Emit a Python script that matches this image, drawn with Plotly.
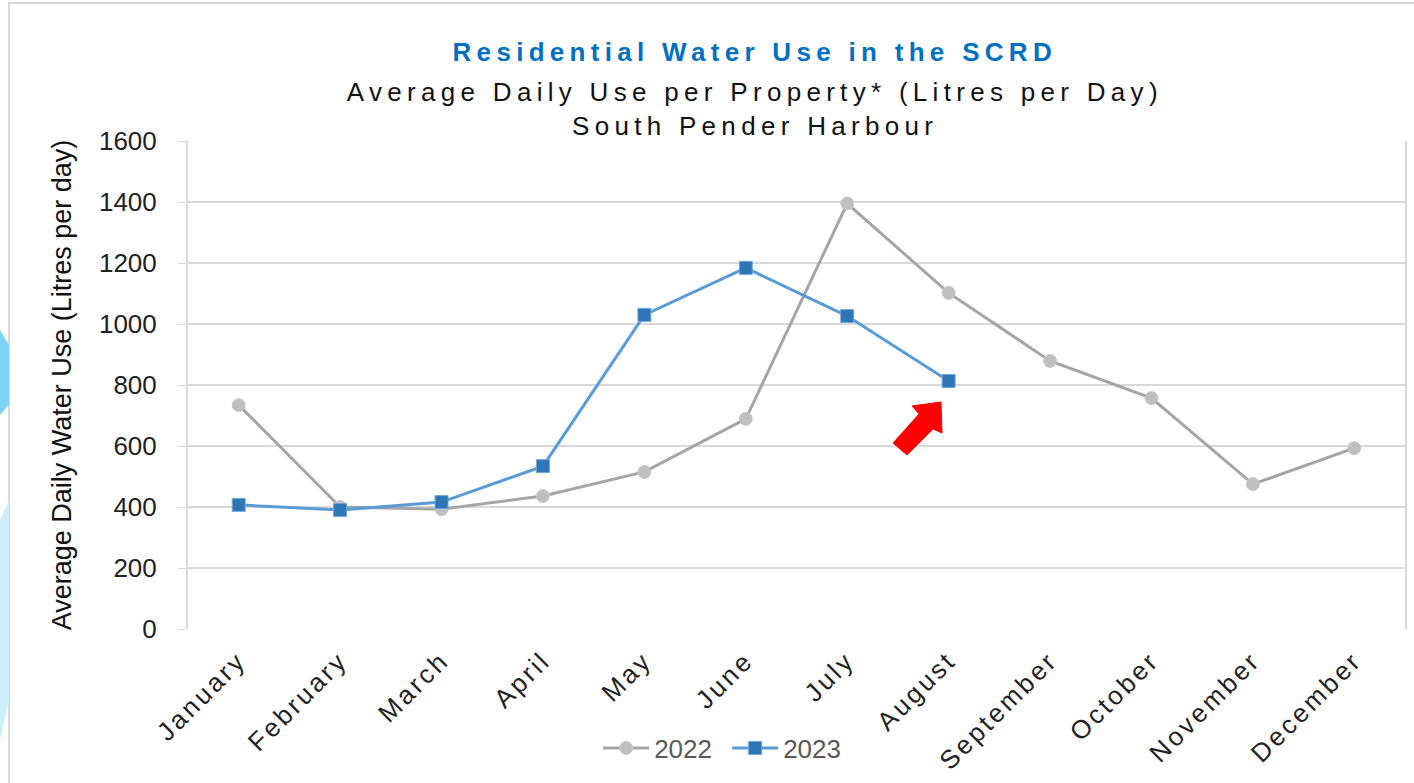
import plotly.graph_objects as go

months = ['January', 'February', 'March', 'April', 'May', 'June', 'July',
          'August', 'September', 'October', 'November', 'December']
use_2022 = [734, 400, 393, 436, 515, 689, 1395, 1102, 879, 757, 475, 593]
months_2023 = months[:8]
use_2023 = [407, 390, 416, 534, 1030, 1184, 1026, 813]
y_ticks = [0, 200, 400, 600, 800, 1000, 1200, 1400, 1600]

# plot area in pixels (used to place decorations)
L, R, T, B = 188, 1405, 141, 629


def px(x, y):
    return (x - L) / (R - L), (B - y) / (B - T)


def poly(points):
    pts = [px(x, y) for x, y in points]
    return 'M ' + ' L '.join(f'{a:.4f},{b:.4f}' for a, b in pts) + ' Z'


fig = go.Figure()

fig.add_trace(go.Scatter(
    x=months, y=use_2022, name='2022', mode='lines+markers',
    line=dict(color='#A5A5A5', width=3),
    marker=dict(symbol='circle', size=13, color='#BFBFBF',
                line=dict(color='#C9C9C9', width=1))))

fig.add_trace(go.Scatter(
    x=months_2023, y=use_2023, name='2023', mode='lines+markers',
    line=dict(color='#5B9BD5', width=3),
    marker=dict(symbol='square', size=13, color='#2E75B6',
                line=dict(color='#6FA8DC', width=1))))

title_lines = [
    ('<b>Residential Water Use in the SCRD</b>', '#0070C0', 26, 52),
    ('Average Daily Use per Property* (Litres per Day)', '#111111', 26, 92),
    ('South Pender Harbour', '#111111', 26, 126),
]
annotations = []
for text, col, size, ypix in title_lines:
    ax, ay = px(755, ypix)
    annotations.append(dict(text=text, x=ax, y=ay, xref='paper', yref='paper',
                            xanchor='center', yanchor='middle', showarrow=False,
                            font=dict(color=col, size=size)))

bx0, by0 = px(9, 3)
bx1, by1 = px(1430, 800)
shapes = [
    dict(type='rect', xref='paper', yref='paper', x0=bx0, y0=by1, x1=bx1, y1=by0,
         line=dict(color='#D9D9D9', width=2), fillcolor='rgba(0,0,0,0)', layer='below'),
    # red arrow pointing at the August 2023 value
    dict(type='path', xref='paper', yref='paper',
         path=poly([(941, 402), (912, 406), (919, 414), (893, 443),
                    (907, 455), (933, 429), (942, 433)]),
         fillcolor='#FF0000', line=dict(color='#FF0000', width=1)),
    # light blue decoration on the left edge
    dict(type='path', xref='paper', yref='paper',
         path=poly([(0, 330), (9, 345), (9, 405), (0, 415)]),
         fillcolor='#7DD3F5', line=dict(width=0)),
    dict(type='path', xref='paper', yref='paper',
         path=poly([(0, 520), (9, 500), (9, 700), (0, 740)]),
         fillcolor='#CDEFFB', line=dict(width=0)),
]

fig.update_layout(
    width=1414, height=783,
    margin=dict(l=L, r=1414 - R, t=T, b=783 - B, autoexpand=False),
    paper_bgcolor='white', plot_bgcolor='white',
    font=dict(family='Arial, Liberation Sans, sans-serif', color='#222222'),
    annotations=annotations,
    shapes=shapes,
    showlegend=True,
    legend=dict(orientation='h', x=0.337, y=-0.244, xanchor='left', yanchor='middle',
                font=dict(size=26, color='#595959'), itemwidth=46,
                bgcolor='rgba(0,0,0,0)',
                entrywidth=68, entrywidthmode='pixels'),
    xaxis=dict(showgrid=False, tickangle=-45, tickfont=dict(size=26, color='#222222'),
               showline=False, ticks='', range=[-0.5, 11.5], automargin=False,
               ticklabelstandoff=10),
    yaxis=dict(range=[0, 1600], tickvals=y_ticks, showgrid=True, gridcolor='#D9D9D9',
               gridwidth=1.5, zeroline=False, showline=True, linecolor='#D9D9D9',
               linewidth=2, mirror=True, ticks='outside', tickcolor='#D9D9D9',
               ticklen=8, tickfont=dict(size=26, color='#222222'), automargin=False,
               ticklabelstandoff=16,
               title=dict(text='Average Daily Water Use (Litres per day)',
                          font=dict(size=27, color='#111111'), standoff=20)),
)

# plotly has no letter-spacing option, so add it with a little css
css = ('html,body{margin:0;padding:0;overflow:hidden}'
       '.annotation-text{letter-spacing:5.3px}'
       '.xtick text{letter-spacing:3px}')
post = ("var s=document.createElement('style');s.innerHTML='" + css + "';"
        "document.head.appendChild(s);")

fig.write_html('out.html', post_script=post, config={'displayModeBar': False})
